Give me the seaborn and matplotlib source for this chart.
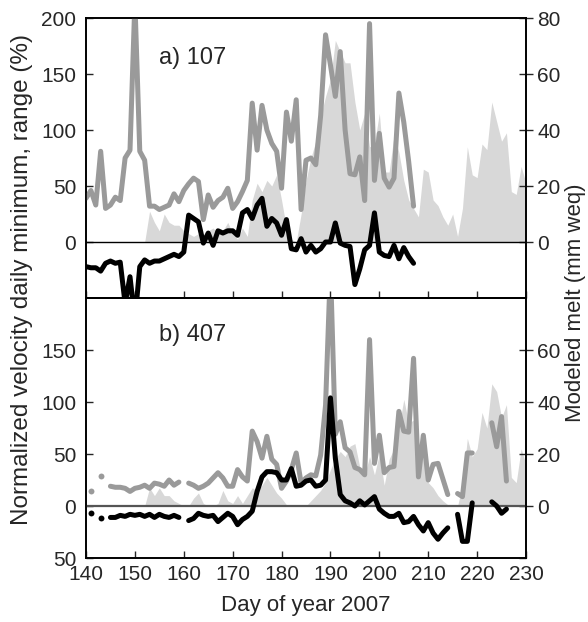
import numpy as np
import pandas as pd
import matplotlib
matplotlib.use("Agg")
import matplotlib.pyplot as plt
import seaborn as sns

sns.set_style("ticks")
plt.rcParams["font.family"] = ["Liberation Sans", "DejaVu Sans"]

# ---------------- data ----------------
# a) station 107: daily values, day 140-207
days_a = list(range(140, 208))
range_a = [39, 46, 33, 81, 30, 33, 40, 37, 75, 82,
           215, 81, 73, 32, 32, 29, 31, 33, 43, 36,
           46, 52, 57, 54, 20, 42, 31, 37, 40, 48,
           30, 36, 45, 55, 124, 82, 122, 100, 88, 81,
           48, 116, 90, 127, 29, 73, 75, 69, 113, 185,
           158, 130, 170, 100, 61, 60, 76, 37, 195, 55,
           97, 57, 49, 57, 133, 107, 72, 32]
minimum_a = [-22, -23, -23, -26, -19, -17, -19, -18, -55, -31,
             -70, -22, -16, -19, -17, -17, -15, -13, -11, -13,
             -9, 24, 21, 18, -1, 8, -3, 10, 8, 10,
             10, 6, 26, 29, 21, 33, 39, 14, 21, 17,
             6, 20, -6, -7, 3, -9, -3, -9, -6, 0,
             0, 17, -1, -3, -4, -38, -24, -7, -3, 26,
             -9, -12, -13, -3, -15, -5, -13, -19]

# modeled melt (mm weq), day 140-230
melt_days = list(range(140, 231))
melt_a = [0, 0, 0, 0, 0, 0, 0, 0, 0, 0,
          0, 0, 0, 11, 7, 4, 10, 7, 6, 6,
          4, 3, 2, 3, 2, 4, 5, 3, 4, 7,
          3, 1, 5, 2, 15, 21, 18, 22, 20, 24,
          15, 5, 1, 0, 10, 22, 30, 36, 45, 52,
          58, 72, 68, 64, 64, 50, 40, 46, 34, 35,
          46, 25, 25, 38, 32, 22, 15, 12, 9, 26,
          25, 15, 13, 9, 6, 10, 2, 12, 34, 24,
          23, 35, 33, 50, 43, 36, 39, 18, 17, 27,
          21]

# b) station 407: daily values, day 141-226 (NaN = no data)
nan = np.nan
days_b = list(range(141, 227))
range_b = [14, nan, 28.5, nan, 19, 18, 18, 17, 14, 17,
           18, 20, 17, 22, 21, 19, 25, 20, 23, nan,
           22, 20, 17, 19, 22, 27, 32, 27, 19, 19,
           35, 28, 24, 72, 62, 46, 67, 45, 40, 17,
           24, 35, 51, 22, 27, 30, 29, 49, 97, 230,
           69, 81, 56, 52, 37, 35, 30, 160, 41, 68,
           32, 37, 38, 91, 72, 71, 142, 28, 68, 25,
           40, 41, 26, 11, nan, 12, 9, 51, 51, nan,
           nan, nan, 80, 57, 86, 24]
minimum_b = [-6.7, nan, -11.5, nan, -11, -11, -9, -10, -8, -9,
             -8, -10, -8, -11, -8, -10, -11, -9, -11, nan,
             -14, -12, -7, -9, -10, -9, -15, -11, -7, -10,
             -18, -13, -10, -5, 14, 28, 33, 33, 32, 25,
             25, 36, 19, 20, 24, 25, 19, 20, 25, 104,
             46, 11, 5, 3, 0, 5, 1, 5, 9, -3,
             -7, -10, -10, -7, -16, -15, -10, -18, -24, -16,
             -26, -32, -26, -21, nan, -8, -34, -34, 3, nan,
             nan, nan, 4, 0, -7, -3]
melt_b = [0, 0, 0, 0, 0, 0, 0, 0, 0, 0,
          0, 0, 0, 7, 4, 7, 4, 4, 2, 1,
          0, 0, 3, 5, 1, 0, 0, 1, 6, 2,
          1, 4, 1, 4, 7, 6, 8, 11, 8, 5,
          3, 0.5, 0, 0, 0, 0, 2, 4, 6, 9,
          14, 18, 21, 19, 23, 24, 15, 12, 19, 12,
          20, 8, 18, 22, 30, 41, 32, 33, 15, 24,
          9, 7, 4, 2, 0.5, 0, 0, 8, 26, 19,
          22, 36, 30, 47, 44, 34, 39, 11, 9, 22,
          16]

x_ticks = list(range(140, 231, 10))
left_ticks_a = [0, 50, 100, 150, 200]
left_labels_a = ["0", "50", "100", "150", "200"]
left_ticks_b = [-50, 0, 50, 100, 150]
left_labels_b = ["50", "0", "50", "100", "150"]
right_ticks_a = [0, 20, 40, 60, 80]
right_ticks_b = [0, 20, 40, 60]

GRAY = "#9a9a9a"
FILL = "#d8d8d8"
FS = 15


def split_runs(days, values):
    """Split a daily series into continuous runs; single days become dots."""
    df = pd.DataFrame({"day": days, "value": pd.Series(values, dtype=float)})
    df["seg"] = df["value"].isna().cumsum()
    df = df.dropna()
    size = df.groupby("seg")["day"].transform("size")
    return df[size > 1], df[size == 1]


def draw_series(ax, days, values, color):
    runs, dots = split_runs(days, values)
    sns.lineplot(data=runs, x="day", y="value", units="seg", estimator=None,
                 color=color, lw=3.6, ax=ax, legend=False,
                 solid_joinstyle="round")
    if len(dots):
        sns.scatterplot(data=dots, x="day", y="value", color=color, s=18,
                        linewidth=0, ax=ax, legend=False, zorder=3)


def panel(ax, days, rng, mn, melt, title, zero_color, zero_lw,
          lticks, llabels, rticks, show_x):
    twin = ax.twinx()
    twin.fill_between(melt_days, 0, melt, color=FILL, lw=0)
    twin.set_ylim(-20, 80)
    twin.set_yticks(rticks)
    twin.set_yticklabels([str(t) for t in rticks])
    twin.tick_params(axis="y", direction="out", length=5, width=1,
                     labelsize=FS, pad=3)
    ax.set_zorder(twin.get_zorder() + 1)
    ax.patch.set_visible(False)

    ax.axhline(0, color=zero_color, lw=zero_lw, zorder=1.5)
    draw_series(ax, days, rng, GRAY)
    draw_series(ax, days, mn, "black")

    ax.set_xlim(140, 230)
    ax.set_ylim(-50, 200)
    ax.set_xticks(x_ticks)
    if show_x:
        ax.set_xticklabels([str(t) for t in x_ticks])
    else:
        ax.set_xticklabels([])
    ax.set_yticks(lticks)
    ax.set_yticklabels(llabels)
    ax.tick_params(axis="both", direction="in", length=5, width=1,
                   labelsize=FS, left=True, right=True, bottom=True,
                   top=False)
    ax.tick_params(axis="y", pad=7)
    ax.tick_params(axis="x", pad=5)
    ax.set_xlabel("")
    ax.set_ylabel("")
    twin.set_ylabel("")
    for a in (ax, twin):
        for sp in a.spines.values():
            sp.set_visible(True)
            sp.set_linewidth(1.2)
            sp.set_color("black")
    ax.text(155, 164, title, fontsize=FS + 2, va="center", ha="left")


fig = plt.figure(figsize=(5.88, 6.22), dpi=100)
ax_a = fig.add_axes([86 / 588, 324 / 622, 440 / 588, 280 / 622])
ax_b = fig.add_axes([86 / 588, 64 / 622, 440 / 588, 260 / 622])

panel(ax_a, days_a, range_a, minimum_a, melt_a, "a) 107", "black", 1.0,
      left_ticks_a, left_labels_a, right_ticks_a, False)
panel(ax_b, days_b, range_b, minimum_b, melt_b, "b) 407", "#555555", 1.6,
      left_ticks_b, left_labels_b, right_ticks_b, True)

fig.text(306 / 588, 16 / 622, "Day of year 2007", ha="center", va="center",
         fontsize=FS + 1)
fig.text(22 / 588, 0.55, "Normalized velocity daily minimum, range (%)",
         rotation=90, ha="center", va="center", fontsize=FS + 2.5)
fig.text(575 / 588, 0.513, "Modeled melt (mm weq)", rotation=90,
         ha="center", va="center", fontsize=FS + 1)

fig.savefig("out.png", dpi=100)
